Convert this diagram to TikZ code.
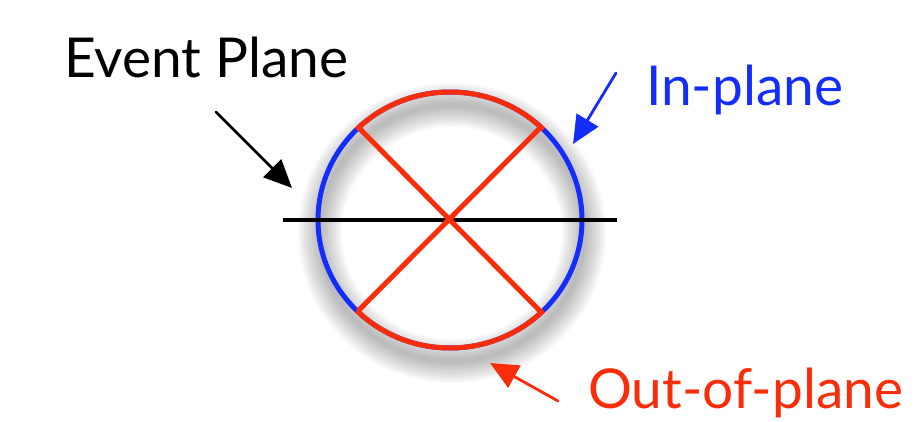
\documentclass[tikz,border=0pt]{standalone}
\usepackage{fontspec}
\setmainfont{Lato}
\usetikzlibrary{arrows.meta}
\definecolor{ipblue}{RGB}{20,45,250}
\definecolor{opred}{RGB}{250,45,10}
\tikzset{
  ring/.style={line width=5pt},
  pointer/.style={line width=2.8pt,line cap=round,-{Triangle[length=28pt,width=25pt]}},
  lbl/.style={inner sep=0pt,font=\fontsize{55}{62}\selectfont}
}
\begin{document}
\begin{tikzpicture}[x=1pt,y=-1pt]
\path[use as bounding box] (0,0) rectangle (921,422);
% shadow
\foreach \w in {44,40,...,4}
  \draw[black,opacity=.028,line width=\w] (452,233) ellipse [x radius=132,y radius=128];
\coordinate (c) at (450,220);
\coordinate (ul) at (359,128);
\coordinate (ur) at (540,128);
\coordinate (ll) at (358,311);
\coordinate (lr) at (540,311);
% ring
\draw[ring,ipblue] (c) ellipse [x radius=132,y radius=128];
\draw[ring,opred] (c) ++(45:132 and -128) arc [start angle=45,end angle=135,x radius=132,y radius=-128];
\draw[ring,opred] (c) ++(-45:132 and -128) arc [start angle=-45,end angle=-135,x radius=132,y radius=-128];
% plane
\coordinate (pl) at (283,220);
\coordinate (pr) at (617,220);
\draw[line width=4.5pt] (pl) -- (pr);
\draw[ring,opred] (ul) -- (lr);
\draw[ring,opred] (ur) -- (ll);
% labels
\node[lbl,anchor=base west] (ep) at (64,78) {Event Plane};
\node[lbl,anchor=base west,text=ipblue] (ip) at (646,106) {In-plane};
\node[lbl,anchor=base west,text=opred] (op) at (588,408) {Out-of-plane};
\coordinate (epa) at (216,112);
\coordinate (epb) at (292,188);
\coordinate (ipa) at (616,73);
\coordinate (ipb) at (573,144);
\coordinate (opa) at (558,401);
\coordinate (opb) at (490,363);
\draw[pointer] (epa) -- (epb);
\draw[pointer,ipblue] (ipa) -- (ipb);
\draw[pointer,opred] (opa) -- (opb);
\end{tikzpicture}
\end{document}
